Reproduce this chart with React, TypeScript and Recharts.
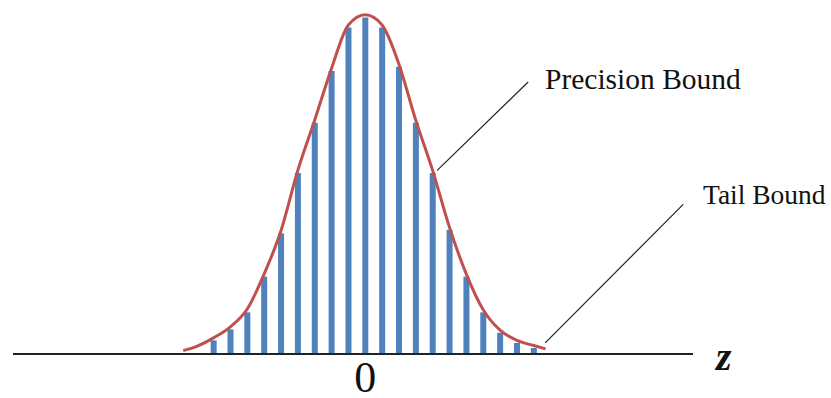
import React from "react"
import {
  ComposedChart,
  Bar,
  Line,
  XAxis,
  YAxis,
  ReferenceLine
} from "recharts"

// ── Data ─────────────────────────────────────────────────────────────────────
// z positions (one unit = one bar step) and density-like heights.

const BAR_Z = [-9, -8, -7, -6, -5, -4, -3, -2, -1, 0, 1, 2, 3, 4, 5, 6, 7, 8, 9, 10]
const BAR_VALUES = [
  0.016, 0.029, 0.049, 0.091, 0.142, 0.213, 0.272, 0.333, 0.384, 0.396,
  0.384, 0.338, 0.272, 0.213, 0.146, 0.091, 0.049, 0.025, 0.013, 0.007
]

const CURVE_Z = [-10.8, -10, -9, -8, -7, -6, -5, -4, -3, -2, -1, 0, 1, 2, 3, 4, 5, 6, 7, 8, 9, 10, 10.7]
const CURVE_VALUES = [
  0.004, 0.009, 0.019, 0.032, 0.053, 0.094, 0.145, 0.216, 0.275, 0.336, 0.387, 0.399,
  0.387, 0.341, 0.275, 0.216, 0.149, 0.094, 0.052, 0.028, 0.016, 0.01, 0.006
]

const X_TICKS = [0]

// leader lines: [from, to] in data coords
const PRECISION_LEADER = [
  { x: 4.27, y: 0.216 },
  { x: 9.67, y: 0.32 }
]
const TAIL_LEADER = [
  { x: 10.68, y: 0.013 },
  { x: 18.87, y: 0.176 }
]

// ── Styling ──────────────────────────────────────────────────────────────────

const BAR_BLUE = "#4f81bd"
const CURVE_RED = "#c0504d"
const INK = "#111111"
const SERIF =
  "'Times New Roman', 'Liberation Serif', 'Noto Serif', 'DejaVu Serif', FreeSerif, Times, serif"

const WIDTH = 831
const HEIGHT = 398

const rows = Array.from(new Set([...CURVE_Z, ...BAR_Z]))
  .sort((a, b) => a - b)
  .map(z => {
    const bi = BAR_Z.indexOf(z)
    const ci = CURVE_Z.indexOf(z)
    return {
      z,
      bar: bi >= 0 ? BAR_VALUES[bi] : null,
      curve: ci >= 0 ? CURVE_VALUES[ci] : null
    }
  })

const ZeroTick = (props: any) => {
  const { x, y, payload } = props
  return (
    <text
      x={x}
      y={y + 30}
      textAnchor="middle"
      fill={INK}
      fontFamily={SERIF}
      fontSize={44}
    >
      {payload.value}
    </text>
  )
}

export default function App() {
  return (
    <div
      style={{
        position: "fixed",
        left: 0,
        top: 0,
        width: WIDTH,
        height: HEIGHT,
        background: "#ffffff"
      }}
    >
      <ComposedChart
        width={WIDTH}
        height={HEIGHT}
        data={rows}
        margin={{ top: 0, right: 138, bottom: 0, left: 13 }}
      >
        <XAxis
          dataKey="z"
          type="number"
          domain={[-20.9, 19.45]}
          allowDataOverflow
          ticks={X_TICKS}
          tick={<ZeroTick />}
          tickLine={false}
          axisLine={{ stroke: "#222222", strokeWidth: 2 }}
          height={44}
          interval={0}
        />
        <YAxis hide domain={[0, 0.4165]} allowDataOverflow />
        <Bar
          dataKey="bar"
          fill={BAR_BLUE}
          barSize={6}
          isAnimationActive={false}
        />
        <Line
          dataKey="curve"
          type="monotone"
          stroke={CURVE_RED}
          strokeWidth={3}
          dot={false}
          connectNulls
          isAnimationActive={false}
        />
        <ReferenceLine
          segment={PRECISION_LEADER}
          stroke="#222222"
          strokeWidth={1.2}
          ifOverflow="visible"
        />
        <ReferenceLine
          segment={TAIL_LEADER}
          stroke="#222222"
          strokeWidth={1.2}
          ifOverflow="visible"
        />
      </ComposedChart>
      <svg
        width={WIDTH}
        height={HEIGHT}
        style={{ position: "absolute", left: 0, top: 0, pointerEvents: "none" }}
      >
        <text x={545} y={89} fill={INK} fontFamily={SERIF} fontSize={29.5}>
          Precision Bound
        </text>
        <text x={703} y={204} fill={INK} fontFamily={SERIF} fontSize={27.5}>
          Tail Bound
        </text>
        <text
          x={716}
          y={370}
          fill={INK}
          fontFamily={SERIF}
          fontSize={40}
          fontStyle="italic"
          fontWeight={700}
        >
          z
        </text>
      </svg>
    </div>
  )
}
